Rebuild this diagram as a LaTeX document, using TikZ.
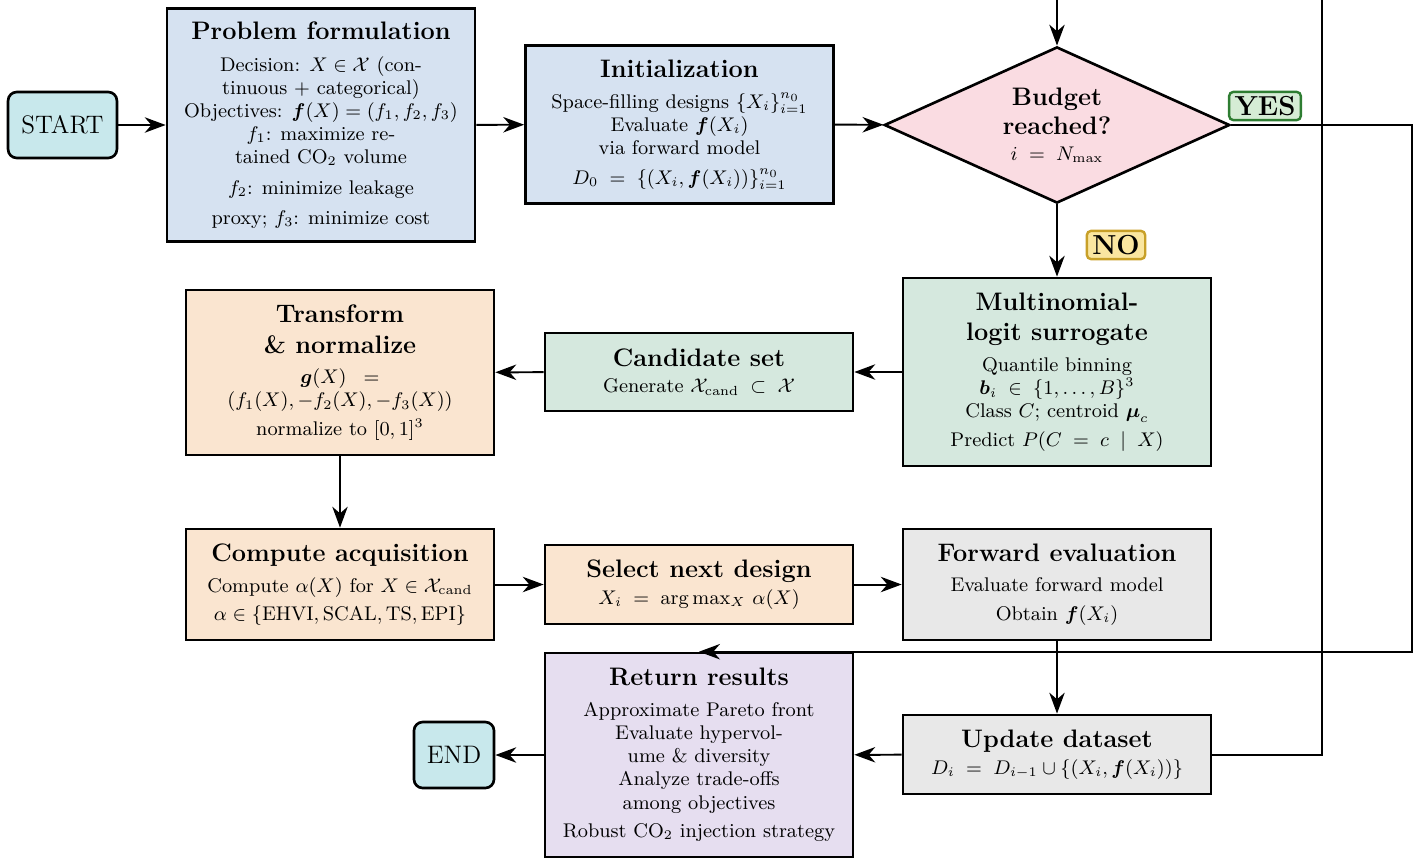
\documentclass[tikz,border=0pt]{standalone}
\usepackage{amsmath}
\usetikzlibrary{arrows.meta,shapes.geometric}
\definecolor{cstart}{RGB}{200,232,236}
\definecolor{cblue}{RGB}{214,226,241}
\definecolor{cpink}{RGB}{250,220,226}
\definecolor{cgreen}{RGB}{213,232,222}
\definecolor{cpeach}{RGB}{250,229,208}
\definecolor{cgray}{RGB}{232,232,232}
\definecolor{clav}{RGB}{230,222,240}
\definecolor{cyesf}{RGB}{213,236,213}
\definecolor{cyesd}{RGB}{46,125,50}
\definecolor{cnof}{RGB}{250,230,160}
\definecolor{cnod}{RGB}{200,160,40}
\newcommand{\ttl}[1]{{\fontsize{11.5}{13.5}\selectfont\bfseries #1}}
\tikzset{
  box/.style={draw, line width=1.2pt, minimum width=140pt, align=center, inner sep=2pt,
    font=\fontsize{9}{10.5}\selectfont},
  arr/.style={-{Stealth[length=9.5pt,width=7pt,inset=3pt]}, line width=0.9pt},
  term/.style={draw, line width=1.2pt, rounded corners=4pt, fill=cstart,
    minimum height=30pt, font=\fontsize{11.5}{13}\selectfont},
  tag/.style={draw, line width=1.1pt, rounded corners=2pt,
    font=\fontsize{12.5}{14}\selectfont\bfseries, inner xsep=2.5pt, inner ysep=2pt}
}
\begin{document}
\begin{tikzpicture}[x=0.4545pt, y=-0.4545pt]
\useasboundingbox (0,0) rectangle (1421,860);
\clip (0,0) rectangle (1421,860);

\node[term, minimum width=49.5pt] (start) at (62.5,125) {START};
\node[box, fill=cblue, minimum height=106pt] (prob) at (321,125)
  {\ttl{Problem formulation}\\[4pt]
   Decision: $X \in \mathcal{X}$ (con-\\
   tinuous + categorical)\\
   Objectives: $\boldsymbol{f}(X) = (f_1, f_2, f_3)$\\
   $f_1$: maximize re-\\
   tained CO$_2$ volume\\[3.5pt]
   $f_2$: minimize leakage\\[3.2pt]
   proxy; $f_3$: minimize cost};
\node[box, fill=cblue, minimum height=72pt] (init) at (679.5,124.5)
  {\ttl{Initialization}\\[3.5pt]
   Space-filling designs $\{X_i\}_{i=1}^{n_0}$\\
   Evaluate $\boldsymbol{f}(X_i)$\\
   via forward model\\[3pt]
   $D_0 \;=\; \{(X_i, \boldsymbol{f}(X_i))\}_{i=1}^{n_0}$};
\node[diamond, draw, line width=1.2pt, fill=cpink, aspect=2.2, minimum width=157pt,
  minimum height=71pt, inner sep=0pt, align=center, font=\fontsize{9}{10.5}\selectfont]
  (dia) at (1057,125)
  {\ttl{Budget}\\[3pt]\ttl{reached?}\\[1pt] $i \;=\; N_{\max}$};
\node[tag, fill=cyesf, draw=cyesd] (yes) at (1265,106) {YES};
\node[tag, fill=cnof, draw=cnod] (no) at (1116,245) {NO};

\node[box, fill=cgreen, minimum height=85.5pt] (multi) at (1057,372)
  {\ttl{Multinomial-}\\[3.5pt]\ttl{logit surrogate}\\[3.5pt]
   Quantile binning\\
   $\boldsymbol{b}_i \;\in\; \{1,\ldots,B\}^3$\\
   Class $C$; centroid $\boldsymbol{\mu}_c$\\[2.5pt]
   Predict $P(C \;=\; c \;\mid\; X)$};
\node[box, fill=cgreen, minimum height=35.5pt] (cand) at (699,372)
  {\ttl{Candidate set}\\[1.5pt]
   Generate $\mathcal{X}_{\mathrm{cand}} \;\subset\; \mathcal{X}$};
\node[box, fill=cpeach, minimum height=75pt] (trans) at (340,372.5)
  {\ttl{Transform}\\[3.5pt]\ttl{\& normalize}\\[3.5pt]
   $\boldsymbol{g}(X) \;\;=$\\
   $(f_1(X), -f_2(X), -f_3(X))$\\[2.5pt]
   normalize to $[0,1]^3$};
\node[box, fill=cpeach, minimum height=50.5pt] (comp) at (340,584.5)
  {\ttl{Compute acquisition}\\[3.5pt]
   Compute $\alpha(X)$ for $X \in \mathcal{X}_{\mathrm{cand}}$\\[2pt]
   $\alpha \in \{\mathrm{EHVI}, \mathrm{SCAL}, \mathrm{TS}, \mathrm{EPI}\}$};
\node[box, fill=cpeach, minimum height=36pt] (sel) at (699,584.5)
  {\ttl{Select next design}\\[1.5pt]
   $X_i \;=\; \arg\max_X\, \alpha(X)$};
\node[box, fill=cgray, minimum height=50.5pt] (fwd) at (1057,584.5)
  {\ttl{Forward evaluation}\\[3.5pt]
   Evaluate forward model\\[2.5pt]
   Obtain $\boldsymbol{f}(X_i)$};
\node[box, fill=cgray, minimum height=36pt] (upd) at (1057,754.5)
  {\ttl{Update dataset}\\[1.5pt]
   $D_i \;=\; D_{i-1} \cup \{(X_i, \boldsymbol{f}(X_i))\}$};
\node[box, fill=clav, minimum height=92.7pt] (ret) at (699,755)
  {\ttl{Return results}\\[3.5pt]
   Approximate Pareto front\\
   Evaluate hypervol-\\
   ume \& diversity\\
   Analyze trade-offs\\
   among objectives\\[2.5pt]
   Robust CO$_2$ injection strategy};
\node[term, minimum width=36.4pt] (end) at (454,755) {END};

\coordinate (loopA) at (1322,-30);
\coordinate (loopB) at (1412,651);

\draw[arr] (start) -- (prob);
\draw[arr] (prob) -- (init);
\draw[arr] (init) -- (dia);
\draw[arr] (dia) -- (multi);
\draw[arr] (multi) -- (cand);
\draw[arr] (cand) -- (trans);
\draw[arr] (trans) -- (comp);
\draw[arr] (comp) -- (sel);
\draw[arr] (sel) -- (fwd);
\draw[arr] (fwd) -- (upd);
\draw[arr] (upd) -- (ret);
\draw[arr] (ret) -- (end);
\draw[arr] (upd.east) -| (loopA) -| (dia.north);
\draw[arr] (dia.east) -| (loopB) |- (ret.north);
\end{tikzpicture}
\end{document}
